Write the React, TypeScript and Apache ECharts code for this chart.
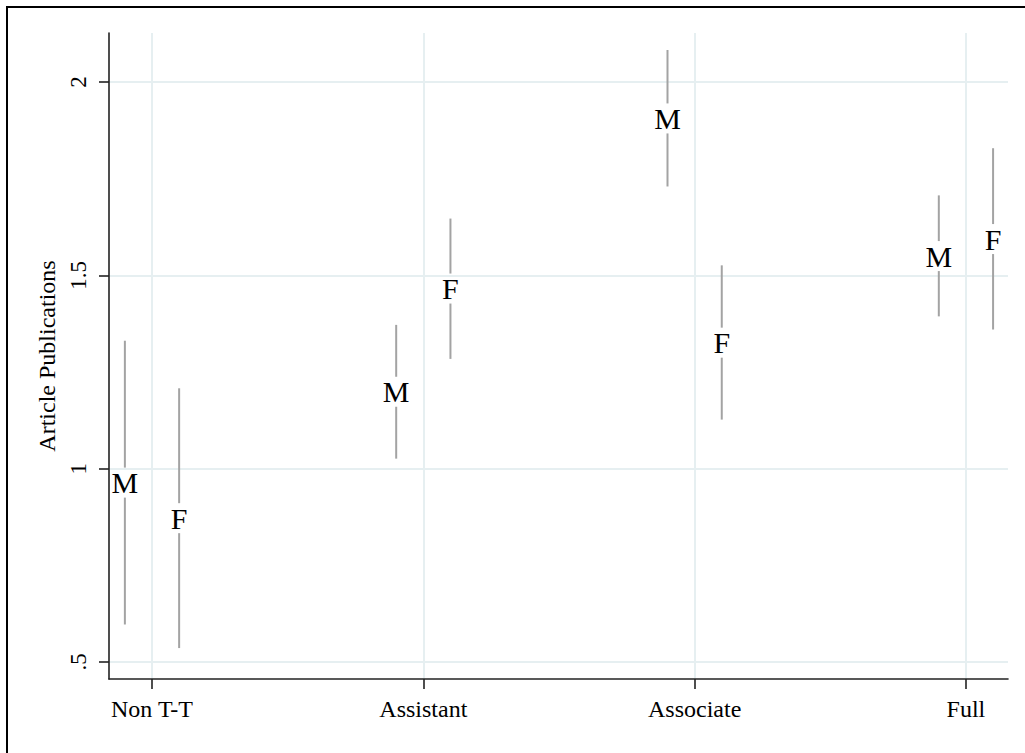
import React, { useEffect, useRef } from "react";
import * as echarts from "echarts";

const categories = ["Non T-T", "Assistant", "Associate", "Full"];
const categoryPositions = [1, 2, 3, 4];
const yTickValues = [0.5, 1, 1.5, 2];

const maleEst = [0.964, 1.199, 1.906, 1.55];
const maleLo = [0.597, 1.026, 1.73, 1.394];
const maleHi = [1.331, 1.372, 2.083, 1.707];

const femaleEst = [0.872, 1.466, 1.326, 1.594];
const femaleLo = [0.536, 1.284, 1.127, 1.36];
const femaleHi = [1.208, 1.647, 1.526, 1.829];

const FONT = "'Liberation Serif', 'Times New Roman', serif";
const GRID_COLOR = "#e6eff1";
const AXIS_COLOR = "#222";
const CI_COLOR = "#a3a3a3";

function makeSeries(name: string, label: string, offset: number, est: number[], lo: number[], hi: number[]) {
  return {
    type: "custom",
    name,
    data: categoryPositions.map((p, i) => [p + offset, lo[i], hi[i], est[i]]),
    renderItem: (params: any, api: any) => {
      const x = api.value(0);
      const pLo = api.coord([x, api.value(1)]);
      const pHi = api.coord([x, api.value(2)]);
      const pMid = api.coord([x, api.value(3)]);
      const gap = 15;
      return {
        type: "group",
        children: [
          {
            type: "line",
            shape: { x1: pHi[0], y1: pHi[1], x2: pMid[0], y2: pMid[1] - gap },
            style: { stroke: CI_COLOR, lineWidth: 2 },
          },
          {
            type: "line",
            shape: { x1: pMid[0], y1: pMid[1] + gap, x2: pLo[0], y2: pLo[1] },
            style: { stroke: CI_COLOR, lineWidth: 2 },
          },
          {
            type: "text",
            x: pMid[0],
            y: pMid[1],
            style: {
              text: label,
              fontSize: 30,
              fontFamily: FONT,
              fill: "#000",
              align: "center",
              verticalAlign: "middle",
            },
          },
        ],
      };
    },
  };
}

export default function App() {
  const ref = useRef<HTMLDivElement>(null);
  useEffect(() => {
    if (!ref.current) return;
    const chart = echarts.init(ref.current, null, { renderer: "svg" });
    chart.setOption({
      animation: false,
      backgroundColor: "#fff",
      grid: { left: 109, right: 17, top: 33, bottom: 74, containLabel: false },
      xAxis: {
        type: "value",
        min: 0.8415,
        max: 4.155,
        axisLine: { show: true, lineStyle: { color: AXIS_COLOR, width: 1.6 } },
        axisTick: {
          show: true,
          length: 10,
          customValues: categoryPositions,
          lineStyle: { color: AXIS_COLOR, width: 1.6 },
        },
        axisLabel: {
          customValues: categoryPositions,
          formatter: (v: number) => categories[Math.round(v) - 1] ?? "",
          fontFamily: FONT,
          fontSize: 24,
          color: "#000",
          margin: 18,
        },
        splitLine: { show: true, lineStyle: { color: GRID_COLOR, width: 2 } },
      },
      yAxis: {
        type: "value",
        min: 0.456,
        max: 2.127,
        name: "Article Publications",
        nameLocation: "middle",
        nameGap: 42,
        nameRotate: 90,
        nameTextStyle: { fontFamily: FONT, fontSize: 24, color: "#000" },
        axisLine: { show: true, lineStyle: { color: AXIS_COLOR, width: 1.6 } },
        axisTick: {
          show: true,
          length: 10,
          customValues: yTickValues,
          lineStyle: { color: AXIS_COLOR, width: 1.6 },
        },
        axisLabel: {
          customValues: yTickValues,
          rotate: 90,
          formatter: (v: number) => String(v).replace(/^0\./, "."),
          fontFamily: FONT,
          fontSize: 23,
          color: "#000",
          margin: 19,
        },
        splitLine: { show: true, lineStyle: { color: GRID_COLOR, width: 2 } },
      },
      graphic: [
        {
          type: "rect",
          shape: { x: 7, y: 7, width: 1100, height: 800 },
          style: { fill: "none", stroke: "#000", lineWidth: 2 },
          silent: true,
        },
      ],
      series: [
        makeSeries("Male", "M", -0.1, maleEst, maleLo, maleHi),
        makeSeries("Female", "F", 0.1, femaleEst, femaleLo, femaleHi),
      ],
    });
    return () => chart.dispose();
  }, []);
  return (
    <div
      ref={ref}
      style={{ position: "fixed", left: 0, top: 0, width: 1025, height: 753 }}
    />
  );
}
